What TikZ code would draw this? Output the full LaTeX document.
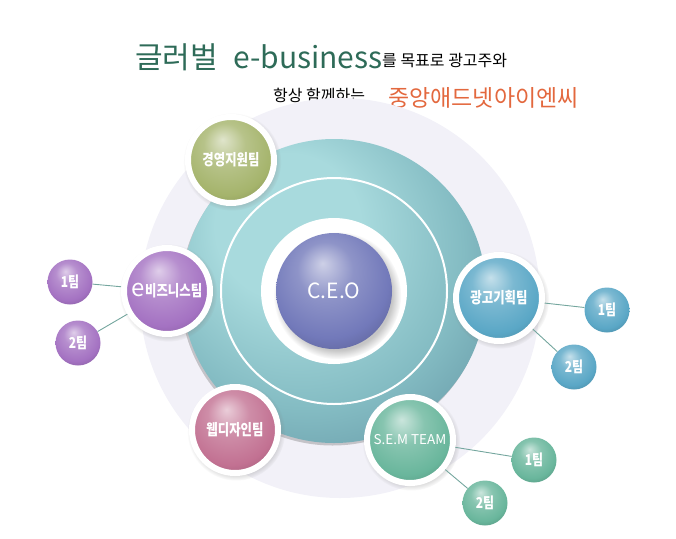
\documentclass[tikz,border=0pt]{standalone}
\usepackage{fontspec}
\newfontfamily\kr{Noto Sans CJK KR}
\newfontfamily\krnarrow[FakeStretch=0.8]{Noto Sans CJK KR}
\usepackage{tikz}
\usetikzlibrary{shadows, backgrounds}

\definecolor{paleBg}{HTML}{F2F1F8}
\definecolor{tealHi}{HTML}{A8DADD}
\definecolor{tealMid}{HTML}{84BCC3}
\definecolor{tealLo}{HTML}{6A9DAA}
\definecolor{ceoBlue}{HTML}{7279BA}
\definecolor{mgmtGreen}{HTML}{A5B46C}
\definecolor{bizPurple}{HTML}{A472C2}
\definecolor{adBlue}{HTML}{5AA7C6}
\definecolor{webPink}{HTML}{C27192}
\definecolor{semGreen}{HTML}{69B69C}
\definecolor{linkTeal}{HTML}{74A69E}
\definecolor{titleGreen}{HTML}{2E6B58}
\definecolor{titleOrange}{HTML}{E3683E}

\makeatletter
\pgfdeclareradialshading[tikz@ball]{gloss}{\pgfqpoint{-5bp}{12bp}}{%
  color(0bp)=(tikz@ball!35!white); color(12bp)=(tikz@ball!80!white);
  color(26bp)=(tikz@ball); color(33bp)=(tikz@ball!85!black);
  color(50bp)=(tikz@ball!80!black)}
\makeatother
\pgfdeclareradialshading{plate}{\pgfqpoint{-10bp}{14bp}}{%
  color(0bp)=(tealHi); color(12bp)=(tealHi); color(26bp)=(tealMid);
  color(36bp)=(tealLo); color(50bp)=(tealLo!85!black)}

\begin{document}
\begin{tikzpicture}[
    x=1pt, y=-1pt,
    gloss/.style={ball color=#1, shading=gloss},
    dept/.style={circle, inner sep=0pt, minimum size=86pt, draw=white, line width=6pt, text=white, font=\krnarrow\bfseries\fontsize{15.5}{16}\selectfont,
        circular drop shadow={shadow scale=1.14, shadow xshift=1pt, shadow yshift=-1.5pt, opacity=0.35}},
    team/.style={circle, inner sep=0pt, minimum size=45pt, text=white, font=\krnarrow\bfseries\fontsize{15}{16}\selectfont},
    link/.style={draw=linkTeal, line width=0.9pt},
    title/.style={anchor=base west, inner sep=0pt}
]
    \useasboundingbox (0,0) rectangle (676,538);

    % Title
    \node[title, text=titleGreen, font=\kr\fontsize{30}{30}\selectfont] (slogan) at (135,68) {글러벌};
    \node[title, text=titleGreen, font=\kr\fontsize{30}{30}\selectfont] (ebizword) at (233,68) {e-business};
    \node[title, font=\kr\fontsize{16}{16}\selectfont] (goal) at (382,66) {를 목표로 광고주와};
    \node[title, font=\kr\fontsize{16}{16}\selectfont] (always) at (273,101) {항상 함께하는};
    \node[title, text=titleOrange, font=\kr\fontsize{23}{23}\selectfont] (company) at (388,106) {중앙애드넷아이엔씨};

    % Rings
    \fill[paleBg] (340,298) circle[radius=200pt];
    \shade[shading=plate, drop shadow={shadow xshift=-1.5pt, shadow yshift=-2.5pt, opacity=0.4}] (334,291) circle[radius=152pt];
    \draw[white, line width=2pt] (334,291) circle[radius=113pt];
    \fill[white] (334,291) circle[radius=73pt];

    % C.E.O
    \node[circle, inner sep=0pt, minimum size=116pt, gloss=ceoBlue, text=white, font=\kr\fontsize{21}{21}\selectfont,
          circular drop shadow={shadow xshift=3pt, shadow yshift=-4pt, opacity=0.45}] (ceo) at (334,291) {C.E.O};

    % Departments
    \node[dept, gloss=mgmtGreen] (mgmt) at (231,160) {경영지원팀};
    \node[dept, gloss=bizPurple] (ebiz) at (167,291) {{\normalfont\kr\fontsize{24}{16}\selectfont e}비즈니스팀};
    \node[dept, gloss=adBlue] (adplan) at (499,298) {광고기획팀};
    \node[dept, gloss=webPink] (webdesign) at (235,430) {웹디자인팀};
    \node[dept, gloss=semGreen, font=\kr\fontsize{13.5}{14}\selectfont] (sem) at (410,440) {S.E.M TEAM};

    % Teams
    \node[team, gloss=bizPurple] (ebiz1) at (70,282) {1팀};
    \node[team, gloss=bizPurple] (ebiz2) at (78,343) {2팀};
    \node[team, gloss=adBlue] (adplan1) at (607,310) {1팀};
    \node[team, gloss=adBlue] (adplan2) at (574,367) {2팀};
    \node[team, gloss=semGreen] (sem1) at (534,460) {1팀};
    \node[team, gloss=semGreen] (sem2) at (485,503) {2팀};

    \draw[link] (ebiz1) -- (ebiz);
    \draw[link] (ebiz2) -- (ebiz);
    \draw[link] (adplan) -- (adplan1);
    \draw[link] (adplan) -- (adplan2);
    \draw[link] (sem) -- (sem1);
    \draw[link] (sem) -- (sem2);
\end{tikzpicture}
\end{document}
